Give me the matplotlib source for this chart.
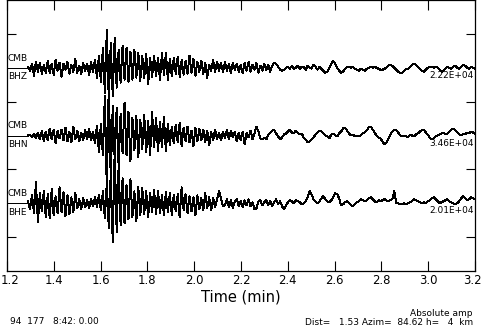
import numpy as np
import matplotlib
matplotlib.use("Agg")
import matplotlib.pyplot as plt
from matplotlib.transforms import ScaledTranslation

# ---------------- data ----------------
stations = ["CMB", "CMB", "CMB"]
channels = ["BHZ", "BHN", "BHE"]
amp_labels = ["2.22E+04", "3.46E+04", "2.01E+04"]
xticks = [1.2, 1.4, 1.6, 1.8, 2.0, 2.2, 2.4, 2.6, 2.8, 3.0, 3.2]
xtick_labels = ["1.2", "1.4", "1.6", "1.8", "2.0", "2.2", "2.4", "2.6", "2.8", "3.0", "3.2"]
t_start, t_end = 1.29, 3.2
header_left = "94  177   8:42: 0.00"
header_right = "Dist=   1.53 Azim=  84.62 h=   4  km"
amp_title = "Absolute amp"

# trace amplitudes (pixels, up positive), evenly sampled from t_start to t_end
bhz = [1, -3, 4, -8, 6, -4, 5, -6, 3, -5,
       7, -5, 4, -7, 8, -3, 5, -9, 4, -2,
       6, -6, 3, -4, 9, -5, 2, -6, 5, -3,
       4, -7, 6, -4, 8, -10, 12, -14, 20, -25,
       38, -32, 25, -28, 30, -20, 18, -15, 22, -12,
       20, -14, 16, -12, 18, -10, 15, -13, 12, -10,
       14, -16, 10, -9, 12, -8, 10, -12, 15, -7,
       15, -12, 9, -8, 10, -6, 11, -9, 8, -7,
       7, -6, 12, -5, 9, -8, 6, -4, 7, -6,
       5, -10, 3, -3, 8, -4, 6, -3, 5, -4,
       6, -3, 4, -5, 5, -2, 4, -4, 3, -5,
       5, -3, 6, -4, 3, -2, 5, -5, 2, -3,
       4, -2, 3, -4, 2, 5, 4, 1, -2, -3,
       -2, 0, 1, -1, 2, -1, 0, 2, -1, 1,
       1, -2, 2, 0, -1, 3, 1, -2, 1, -1,
       -3, -5, -4, 0, 4, 7, 4, 0, -3, -5,
       -4, -1, 1, 1, 0, 1, -1, -2, -3, -1,
       -2, -3, -1, 0, 1, 0, 1, 0, -1, -2,
       -2, -1, 0, 2, 3, 2, 0, -2, -4, -5,
       -5, -3, -1, -1, 1, 3, 4, 3, 1, -1,
       -3, -4, -2, 0, 1, 1, 0, 1, 0, -2,
       -4, -3, -1, 1, 0, -1, 1, 2, 0, -1,
       1, 3, 2, 0, -1, 1, 0, -1]

bhn = [0, 1, -2, 2, -3, 3, -4, 5, -6, 4,
       -5, 7, -4, 6, -8, 5, -3, 6, -5, 8,
       -6, 4, -7, 9, -4, 5, -6, 3, -5, 6,
       -4, 7, -5, 4, -8, 10, -17, 12, -20, 40,
       -55, 52, -45, 30, -25, 28, -31, 22, -18, 33,
       -20, 24, -26, 18, -15, 20, -22, 16, -14, 21,
       -17, 15, -20, 24, -12, 18, -16, 14, -12, 19,
       -16, 12, -10, 9, -8, 11, -7, 13, -11, 8,
       -6, 9, -7, 5, -11, 8, -6, 7, -5, 6,
       -7, 5, -10, 4, -5, 6, -4, 3, -5, 4,
       -3, 6, -4, 5, -2, 4, -6, 3, -5, 4,
       -9, 3, -2, 5, -4, 2, 9, 4, -3, -4,
       -2, -4, 1, 3, 5, 6, 2, -1, -4, -2,
       1, 2, 4, 6, 3, 2, 5, 3, 1, 2,
       -2, -4, -7, -6, -4, -2, 1, 3, 5, 4,
       2, 0, -1, -3, 1, 2, 0, -1, 2, 4,
       7, 8, 5, 2, 0, 1, -1, 0, -1, 0,
       2, 3, 5, 8, 9, 6, 3, 0, -2, -3,
       -6, -9, -7, -3, 1, 4, 6, 5, 3, 0,
       -1, 0, -1, -2, 1, 0, -1, 1, 2, 4,
       5, 6, 3, 1, -2, -4, -3, -1, 0, 1,
       2, 3, 1, 2, 4, 6, 7, 5, 3, 1,
       0, 2, 1, 3, 2, 4, 3, 2]

bhe = [2, -6, 8, -10, 21, -19, 10, -8, 12, -14,
       9, -15, 14, -12, 7, -10, 16, -9, 11, -13,
       8, -11, 6, -9, 10, -5, 4, -6, 5, -4,
       3, -5, 4, -3, 6, -4, 8, -7, 12, -15,
       21, -25, 30, -39, 54, -29, 38, -22, 25, -20,
       18, -16, 24, -14, 12, -18, 16, -12, 15, -11,
       12, -14, 10, -9, 13, -11, 12, -10, 8, -12,
       11, -9, 10, -12, 8, -8, 9, -14, 16, -7,
       9, -10, 7, -8, 6, -12, 8, -6, 5, -7,
       10, -5, 6, -7, 5, -4, 4, 12, 5, -3,
       -2, 4, -4, 3, -5, 2, 4, -3, 2, -4,
       3, -2, 4, -3, 1, -6, -5, 2, 3, -2,
       1, 3, -2, 2, -3, 1, 4, -1, 2, -3,
       -6, -2, 1, 3, 2, 0, 3, 2, 1, -1,
       0, 2, 6, 12, 9, 4, 2, 0, 2, 5,
       7, 4, 2, 1, 3, 6, 10, 9, 5, -2,
       -1, 1, 2, 0, -2, -3, -1, 1, 2, 4,
       3, 2, 3, 5, 6, 4, 2, 1, 3, 2,
       3, 4, 3, 2, 3, 4, 12, 0, 0, -1,
       -1, 0, -1, 0, 1, 2, 4, 3, 2, 1,
       0, 1, 0, 2, 3, 5, 6, 4, 2, 0,
       1, 2, 3, 4, 2, 1, 0, -1, 0, 2,
       5, 7, 5, 3, 4, 6, 5, 4]

traces = [bhz, bhn, bhe]

# ---------------- figure ----------------
W, H = 483, 326
fig = plt.figure(figsize=(W / 100, H / 100), dpi=100)
ax_l, ax_r, ax_t, ax_b = 7, 475, 0, 271
ax = fig.add_axes([ax_l / W, (H - ax_b) / H, (ax_r - ax_l) / W, (ax_b - ax_t) / H])
ax.set_xlim(xticks[0], xticks[-1])
ax.set_ylim(0, 4)
px_per_unit = (ax_b - ax_t) / 4.0
dx_unit = (xticks[-1] - xticks[0]) / (ax_r - ax_l)

for k, (sta, ch, amp, tr) in enumerate(zip(stations, channels, amp_labels, traces)):
    base = 3 - k
    t = np.linspace(t_start, t_end, len(tr))
    y = base + np.asarray(tr, dtype=float) / px_per_unit
    ax.plot(t, y, color="black", lw=0.7, antialiased=False)
    ax.plot([xticks[0], t_start], [base, base], color="black", lw=0.7, antialiased=False)
    ax.text(xticks[0] + 1.0 * dx_unit, base + 9.5 / px_per_unit, sta,
            fontsize=6.5, ha="left", va="center")
    ax.text(xticks[0] + 1.0 * dx_unit, base - 9.0 / px_per_unit, ch,
            fontsize=6.5, ha="left", va="center")
    ax.text(xticks[-1] - 1.5 * dx_unit, base - 7.5 / px_per_unit, amp,
            fontsize=6.5, ha="right", va="center")

ax.set_xticks(xticks)
ax.set_xticklabels(xtick_labels)
ax.set_yticks([0.5, 1.5, 2.5, 3.5])
ax.set_yticklabels([])
ax.tick_params(axis="x", direction="in", top=True, bottom=True, length=7.5,
               width=0.8, labelsize=8.4, pad=2)
ax.tick_params(axis="y", direction="in", left=True, right=True, length=6.5,
               width=0.8)
for s in ax.spines.values():
    s.set_linewidth(0.9)

# shift the edge tick labels inward slightly so they stay on the canvas
lbls = ax.get_xticklabels()
lbls[0].set_transform(lbls[0].get_transform() + ScaledTranslation(2.5 / 100, 0, fig.dpi_scale_trans))
lbls[-1].set_transform(lbls[-1].get_transform() + ScaledTranslation(-3 / 100, 0, fig.dpi_scale_trans))

fig.text(241 / W, 1 - 297 / H, "Time (min)", fontsize=10.5, ha="center", va="center")
fig.text(10 / W, 1 - 322 / H, header_left, fontsize=6.5, ha="left", va="center")
fig.text(473 / W, 1 - 313 / H, amp_title, fontsize=6.5, ha="right", va="center")
fig.text(473 / W, 1 - 322.5 / H, header_right, fontsize=6.5, ha="right", va="center")

fig.savefig("out.png", dpi=100)
